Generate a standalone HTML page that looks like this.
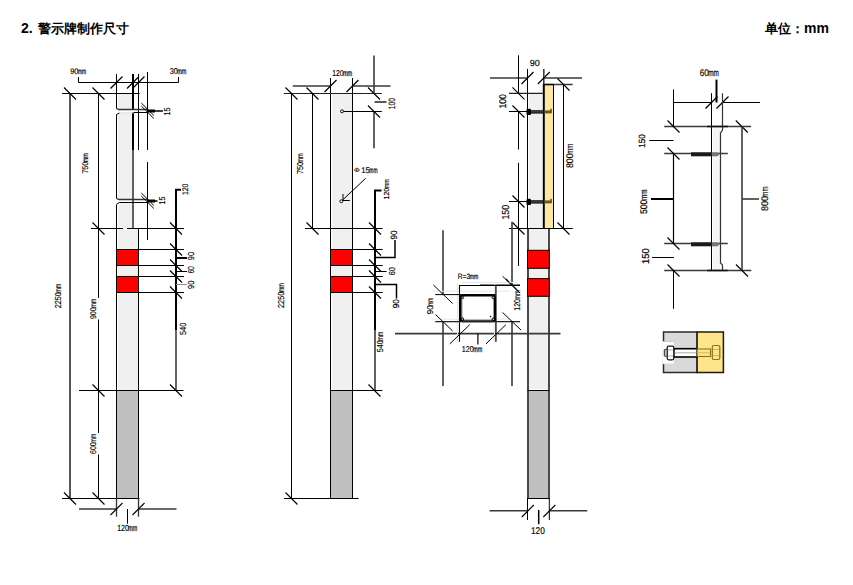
<!DOCTYPE html>
<html><head><meta charset="utf-8"><style>
html,body{margin:0;padding:0;background:#fff;width:853px;height:585px;overflow:hidden;}
body{position:relative;font-family:"Liberation Sans",sans-serif;color:#000;}
.t{position:absolute;font-size:13px;font-weight:bold;white-space:nowrap;line-height:16px;}
svg{position:absolute;left:0;top:0;}
svg text{font-family:"Liberation Sans",sans-serif;text-rendering:geometricPrecision;}
</style></head><body>
<div class="t" style="left:21px;top:20px;font-size:14px;">2.</div><div class="t" style="left:37.5px;top:21px;">警示牌制作尺寸</div>
<div class="t" style="left:765px;top:20px;">单位：<span style="font-size:14px">mm</span></div>
<svg width="853" height="585" viewBox="0 0 853 585">
<rect x="118" y="94" width="14" height="134" fill="#f0f0f0" stroke="none" stroke-width="1"/>
<rect x="118" y="229" width="20" height="161" fill="#f0f0f0" stroke="none" stroke-width="1"/>
<rect x="117" y="391" width="21" height="107" fill="#c0c0c0" stroke="none" stroke-width="1"/>
<line x1="116.5" y1="74" x2="116.5" y2="108.5" stroke="#000" stroke-width="1"/>
<line x1="116.5" y1="114.5" x2="116.5" y2="198.5" stroke="#000" stroke-width="1"/>
<line x1="116.5" y1="204.5" x2="116.5" y2="498.5" stroke="#000" stroke-width="1"/>
<line x1="133" y1="74" x2="133" y2="150" stroke="#000" stroke-width="2"/>
<line x1="133" y1="150" x2="133" y2="228.5" stroke="#3a3a3a" stroke-width="1.6"/>
<line x1="138.5" y1="74" x2="138.5" y2="150" stroke="#000" stroke-width="1"/>
<line x1="138.5" y1="228" x2="138.5" y2="498.5" stroke="#000" stroke-width="1"/>
<rect x="117" y="110" width="18" height="2.5" fill="#fff"/>
<rect x="117" y="200" width="15" height="2" fill="#fff"/>
<polyline points="116.5,108.4 118.5,109.5 147.5,109.5" fill="none" stroke="#333" stroke-width="1.3"/>
<polyline points="116.5,114.5 119.5,113" fill="none" stroke="#000" stroke-width="1"/>
<line x1="119.5" y1="113" x2="133" y2="113" stroke="#ddd" stroke-width="1"/>
<line x1="134" y1="112.5" x2="147.5" y2="112.5" stroke="#000" stroke-width="1"/>
<polyline points="116.5,198.3 119,199.5 147.5,199.5" fill="none" stroke="#333" stroke-width="1.3"/>
<polyline points="116.5,204.2 119.5,202.5 147.5,202.5" fill="none" stroke="#000" stroke-width="1"/>
<rect x="116.5" y="249.5" width="22" height="16" fill="#ff0000" stroke="#000" stroke-width="1"/>
<rect x="116.5" y="276.5" width="22" height="16" fill="#ff0000" stroke="#000" stroke-width="1"/>
<line x1="147.5" y1="72" x2="147.5" y2="150" stroke="#000" stroke-width="1"/>
<line x1="147.5" y1="162" x2="147.5" y2="240" stroke="#000" stroke-width="1"/>
<line x1="141.3" y1="103" x2="153.9" y2="115.5" stroke="#000" stroke-width="1"/>
<line x1="141.3" y1="106" x2="153.9" y2="118.5" stroke="#000" stroke-width="1"/>
<line x1="147.5" y1="111" x2="155" y2="111" stroke="#000" stroke-width="3"/>
<line x1="155" y1="111" x2="162.9" y2="111" stroke="#000" stroke-width="1.5"/>
<text x="167.25" y="114.70" font-size="8.61" text-anchor="middle" textLength="7.92" lengthAdjust="spacingAndGlyphs" fill="#000" stroke="#000" stroke-width="0.15" transform="rotate(-90 167.25 111.60)">15</text>
<line x1="141.3" y1="193" x2="153.9" y2="205.5" stroke="#000" stroke-width="1"/>
<line x1="141.3" y1="196" x2="153.9" y2="208.5" stroke="#000" stroke-width="1"/>
<line x1="147.5" y1="201" x2="155" y2="201" stroke="#000" stroke-width="3"/>
<line x1="155" y1="201" x2="157.5" y2="201" stroke="#000" stroke-width="1.5"/>
<text x="162.05" y="203.60" font-size="8.61" text-anchor="middle" textLength="7.92" lengthAdjust="spacingAndGlyphs" fill="#000" stroke="#000" stroke-width="0.15" transform="rotate(-90 162.05 200.50)">15</text>
<polyline points="78.5,77 78.5,82.5 178.5,82.5 178.5,77" fill="none" stroke="#000" stroke-width="1"/>
<line x1="110.5" y1="88.5" x2="122.5" y2="76.5" stroke="#000" stroke-width="1.15"/>
<line x1="127" y1="88.5" x2="139" y2="76.5" stroke="#000" stroke-width="1.15"/>
<line x1="132.5" y1="88.5" x2="144.5" y2="76.5" stroke="#000" stroke-width="1.15"/>
<text x="74.30" y="73.95" font-size="8.06" text-anchor="middle" textLength="8.28" lengthAdjust="spacingAndGlyphs" fill="#000" stroke="#000" stroke-width="0.15">90</text>
<text x="82.00" y="73.95" font-size="8.06" text-anchor="middle" textLength="8.08" lengthAdjust="spacingAndGlyphs" fill="#000" stroke="#000" stroke-width="0.25">mm</text>
<text x="173.70" y="74.05" font-size="8.47" text-anchor="middle" textLength="8.11" lengthAdjust="spacingAndGlyphs" fill="#000" stroke="#000" stroke-width="0.15">30</text>
<text x="181.80" y="74.05" font-size="8.47" text-anchor="middle" textLength="9.11" lengthAdjust="spacingAndGlyphs" fill="#000" stroke="#000" stroke-width="0.25">mm</text>
<line x1="62" y1="93.5" x2="139.5" y2="93.5" stroke="#000" stroke-width="1"/>
<line x1="64" y1="87.5" x2="76" y2="99.5" stroke="#000" stroke-width="1.15"/>
<line x1="92.5" y1="87.5" x2="104.5" y2="99.5" stroke="#000" stroke-width="1.15"/>
<line x1="70" y1="93.5" x2="70" y2="498.5" stroke="#111" stroke-width="1.4"/>
<line x1="98.5" y1="93.5" x2="98.5" y2="498.5" stroke="#000" stroke-width="1"/>
<line x1="91" y1="228.5" x2="123" y2="228.5" stroke="#000" stroke-width="1"/>
<line x1="127" y1="228.5" x2="184" y2="228.5" stroke="#000" stroke-width="1"/>
<line x1="92.5" y1="222.5" x2="104.5" y2="234.5" stroke="#000" stroke-width="1.15"/>
<line x1="170" y1="222.5" x2="182" y2="234.5" stroke="#000" stroke-width="1.15"/>
<line x1="138.5" y1="249.5" x2="184" y2="249.5" stroke="#000" stroke-width="1"/>
<line x1="170" y1="243.5" x2="182" y2="255.5" stroke="#000" stroke-width="1.15"/>
<line x1="138.5" y1="265.5" x2="184" y2="265.5" stroke="#000" stroke-width="1"/>
<line x1="170" y1="259.5" x2="182" y2="271.5" stroke="#000" stroke-width="1.15"/>
<line x1="138.5" y1="276.5" x2="184" y2="276.5" stroke="#000" stroke-width="1"/>
<line x1="170" y1="270.5" x2="182" y2="282.5" stroke="#000" stroke-width="1.15"/>
<line x1="138.5" y1="292.5" x2="184" y2="292.5" stroke="#000" stroke-width="1"/>
<line x1="170" y1="286.5" x2="182" y2="298.5" stroke="#000" stroke-width="1.15"/>
<polyline points="181,189.8 176,189.8 176,330" fill="none" stroke="#000" stroke-width="2"/>
<line x1="176" y1="330" x2="176" y2="390.5" stroke="#333" stroke-width="1.5"/>
<text x="185.10" y="192.30" font-size="8.19" text-anchor="middle" textLength="11.39" lengthAdjust="spacingAndGlyphs" fill="#000" stroke="#000" stroke-width="0.15" transform="rotate(-90 185.10 189.35)">120</text>
<line x1="176" y1="258" x2="187" y2="258" stroke="#000" stroke-width="2"/>
<line x1="176" y1="271.5" x2="187" y2="271.5" stroke="#000" stroke-width="1"/>
<line x1="176" y1="284.5" x2="187" y2="284.5" stroke="#888" stroke-width="1"/>
<text x="191.10" y="259.15" font-size="8.75" text-anchor="middle" textLength="8.32" lengthAdjust="spacingAndGlyphs" fill="#000" stroke="#000" stroke-width="0.15" transform="rotate(-90 191.10 256.00)">90</text>
<text x="191.10" y="272.90" font-size="8.75" text-anchor="middle" textLength="7.02" lengthAdjust="spacingAndGlyphs" fill="#000" stroke="#000" stroke-width="0.15" transform="rotate(-90 191.10 269.75)">60</text>
<text x="191.10" y="287.85" font-size="8.75" text-anchor="middle" textLength="8.33" lengthAdjust="spacingAndGlyphs" fill="#000" stroke="#000" stroke-width="0.15" transform="rotate(-90 191.10 284.70)">90</text>
<text x="183.10" y="332.00" font-size="8.75" text-anchor="middle" textLength="12.22" lengthAdjust="spacingAndGlyphs" fill="#000" stroke="#000" stroke-width="0.15" transform="rotate(-90 183.10 328.85)">540</text>
<line x1="79" y1="390.5" x2="183.5" y2="390.5" stroke="#000" stroke-width="1"/>
<line x1="92.5" y1="384.5" x2="104.5" y2="396.5" stroke="#000" stroke-width="1.15"/>
<line x1="170" y1="384.5" x2="182" y2="396.5" stroke="#000" stroke-width="1.15"/>
<line x1="62" y1="498.5" x2="139.5" y2="498.5" stroke="#000" stroke-width="1"/>
<line x1="64" y1="492.5" x2="76" y2="504.5" stroke="#000" stroke-width="1.15"/>
<line x1="92.5" y1="492.5" x2="104.5" y2="504.5" stroke="#000" stroke-width="1.15"/>
<line x1="79" y1="509" x2="116.5" y2="509" stroke="#3a3a3a" stroke-width="1.6"/>
<line x1="138.5" y1="509" x2="176.5" y2="509" stroke="#3a3a3a" stroke-width="1.6"/>
<line x1="116.5" y1="498" x2="116.5" y2="516.7" stroke="#333" stroke-width="1.3"/>
<line x1="138.5" y1="498" x2="138.5" y2="516.7" stroke="#333" stroke-width="1.3"/>
<line x1="110.5" y1="515" x2="122.5" y2="503" stroke="#000" stroke-width="1.15"/>
<line x1="132.5" y1="515" x2="144.5" y2="503" stroke="#000" stroke-width="1.15"/>
<line x1="127.5" y1="509" x2="127.5" y2="523.7" stroke="#000" stroke-width="1"/>
<text x="122.95" y="531.15" font-size="8.89" text-anchor="middle" textLength="11.63" lengthAdjust="spacingAndGlyphs" fill="#000" stroke="#000" stroke-width="0.15">120</text>
<text x="132.75" y="531.15" font-size="8.89" text-anchor="middle" textLength="9.03" lengthAdjust="spacingAndGlyphs" fill="#000" stroke="#000" stroke-width="0.25">mm</text>
<rect x="89.5" y="298" width="9.5" height="21.5" fill="#fff" stroke="none" stroke-width="1"/>
<rect x="89.5" y="433" width="9.5" height="21.5" fill="#fff" stroke="none" stroke-width="1"/>
<text x="85.50" y="170.60" font-size="8.19" text-anchor="middle" textLength="11.79" lengthAdjust="spacingAndGlyphs" fill="#000" stroke="#000" stroke-width="0.15" transform="rotate(-90 85.50 167.65)">750</text>
<text x="85.50" y="160.70" font-size="8.19" text-anchor="middle" textLength="8.99" lengthAdjust="spacingAndGlyphs" fill="#000" stroke="#000" stroke-width="0.15" transform="rotate(-90 85.50 157.75)">mm</text>
<text x="57.95" y="303.30" font-size="8.61" text-anchor="middle" textLength="16.12" lengthAdjust="spacingAndGlyphs" fill="#000" stroke="#000" stroke-width="0.15" transform="rotate(-90 57.95 300.20)">2250</text>
<text x="57.95" y="291.25" font-size="8.61" text-anchor="middle" textLength="9.02" lengthAdjust="spacingAndGlyphs" fill="#000" stroke="#000" stroke-width="0.15" transform="rotate(-90 57.95 288.15)">mm</text>
<text x="93.25" y="316.15" font-size="8.33" text-anchor="middle" textLength="11.80" lengthAdjust="spacingAndGlyphs" fill="#000" stroke="#000" stroke-width="0.15" transform="rotate(-90 93.25 313.15)">900</text>
<text x="93.25" y="306.25" font-size="8.33" text-anchor="middle" textLength="9.00" lengthAdjust="spacingAndGlyphs" fill="#000" stroke="#000" stroke-width="0.15" transform="rotate(-90 93.25 303.25)">mm</text>
<text x="93.20" y="451.15" font-size="8.47" text-anchor="middle" textLength="11.71" lengthAdjust="spacingAndGlyphs" fill="#000" stroke="#000" stroke-width="0.15" transform="rotate(-90 93.20 448.10)">600</text>
<text x="93.20" y="441.30" font-size="8.47" text-anchor="middle" textLength="9.01" lengthAdjust="spacingAndGlyphs" fill="#000" stroke="#000" stroke-width="0.15" transform="rotate(-90 93.20 438.25)">mm</text>
<rect x="332" y="94" width="20" height="296" fill="#f0f0f0" stroke="none" stroke-width="1"/>
<rect x="331" y="391" width="21" height="107" fill="#c0c0c0" stroke="none" stroke-width="1"/>
<line x1="330.5" y1="78" x2="330.5" y2="498.5" stroke="#000" stroke-width="1"/>
<line x1="352.5" y1="78" x2="352.5" y2="498.5" stroke="#000" stroke-width="1"/>
<rect x="330.5" y="249.5" width="22" height="16" fill="#ff0000" stroke="#000" stroke-width="1"/>
<rect x="330.5" y="276.5" width="22" height="16" fill="#ff0000" stroke="#000" stroke-width="1"/>
<line x1="292.8" y1="86" x2="330.5" y2="86" stroke="#3a3a3a" stroke-width="1.6"/>
<line x1="352.5" y1="86" x2="390.6" y2="86" stroke="#3a3a3a" stroke-width="1.6"/>
<line x1="324.5" y1="92" x2="336.5" y2="80" stroke="#000" stroke-width="1.15"/>
<line x1="346.5" y1="92" x2="358.5" y2="80" stroke="#000" stroke-width="1.15"/>
<text x="337.80" y="75.95" font-size="8.61" text-anchor="middle" textLength="11.32" lengthAdjust="spacingAndGlyphs" fill="#000" stroke="#000" stroke-width="0.15">120</text>
<text x="347.60" y="75.95" font-size="8.61" text-anchor="middle" textLength="9.32" lengthAdjust="spacingAndGlyphs" fill="#000" stroke="#000" stroke-width="0.25">mm</text>
<line x1="283.8" y1="93.5" x2="381.8" y2="93.5" stroke="#222" stroke-width="1"/>
<line x1="285.5" y1="87.5" x2="297.5" y2="99.5" stroke="#000" stroke-width="1.15"/>
<line x1="306.5" y1="87.5" x2="318.5" y2="99.5" stroke="#000" stroke-width="1.15"/>
<line x1="368" y1="87.5" x2="380" y2="99.5" stroke="#000" stroke-width="1.15"/>
<line x1="374" y1="55.5" x2="374" y2="93.5" stroke="#3a3a3a" stroke-width="1.6"/>
<line x1="374" y1="111.5" x2="374" y2="148.3" stroke="#3a3a3a" stroke-width="1.6"/>
<circle cx="342" cy="111.3" r="1.5" fill="none" stroke="#000" stroke-width="0.9"/>
<line x1="343.5" y1="111.5" x2="381.8" y2="111.5" stroke="#000" stroke-width="1"/>
<line x1="368" y1="105.5" x2="380" y2="117.5" stroke="#000" stroke-width="1.15"/>
<line x1="374.5" y1="102" x2="386.5" y2="102" stroke="#000" stroke-width="1.3"/>
<text x="391.75" y="106.90" font-size="9.17" text-anchor="middle" textLength="11.35" lengthAdjust="spacingAndGlyphs" fill="#000" stroke="#000" stroke-width="0.15" transform="rotate(-90 391.75 103.60)">100</text>
<circle cx="341.3" cy="201.3" r="1.5" fill="none" stroke="#000" stroke-width="0.9"/>
<line x1="343" y1="194" x2="343" y2="200.5" stroke="#000" stroke-width="1"/>
<line x1="343" y1="200.5" x2="349.8" y2="200.5" stroke="#000" stroke-width="1"/>
<line x1="363.9" y1="180" x2="342.6" y2="200" stroke="#000" stroke-width="1"/>
<line x1="365.7" y1="178.2" x2="363.9" y2="180" stroke="#000" stroke-width="1"/>
<text x="356.75" y="171.66" font-size="6.00" text-anchor="middle" textLength="5.66" lengthAdjust="spacingAndGlyphs" fill="#000" stroke="#000" stroke-width="0.15">Φ</text>
<text x="365.50" y="172.95" font-size="8.33" text-anchor="middle" textLength="8.70" lengthAdjust="spacingAndGlyphs" fill="#000" stroke="#000" stroke-width="0.15">15</text>
<text x="373.40" y="172.95" font-size="8.33" text-anchor="middle" textLength="8.10" lengthAdjust="spacingAndGlyphs" fill="#000" stroke="#000" stroke-width="0.25">mm</text>
<line x1="291.5" y1="93.5" x2="291.5" y2="498.5" stroke="#000" stroke-width="1"/>
<line x1="312.5" y1="93.5" x2="312.5" y2="228.5" stroke="#000" stroke-width="1"/>
<line x1="304.9" y1="228.5" x2="382.6" y2="228.5" stroke="#000" stroke-width="1"/>
<line x1="306.5" y1="222.5" x2="318.5" y2="234.5" stroke="#000" stroke-width="1.15"/>
<line x1="369" y1="222.5" x2="381" y2="234.5" stroke="#000" stroke-width="1.15"/>
<polyline points="381.5,190.6 375,190.6 375,330.6" fill="none" stroke="#000" stroke-width="2"/>
<line x1="375" y1="330.6" x2="375" y2="390.5" stroke="#3a3a3a" stroke-width="1.6"/>
<text x="386.40" y="196.30" font-size="7.36" text-anchor="middle" textLength="11.74" lengthAdjust="spacingAndGlyphs" fill="#000" stroke="#000" stroke-width="0.15" transform="rotate(-90 386.40 193.65)">120</text>
<text x="386.40" y="186.40" font-size="7.36" text-anchor="middle" textLength="8.94" lengthAdjust="spacingAndGlyphs" fill="#000" stroke="#000" stroke-width="0.15" transform="rotate(-90 386.40 183.75)">mm</text>
<line x1="352.5" y1="249.5" x2="382.7" y2="249.5" stroke="#000" stroke-width="1"/>
<line x1="369" y1="243.5" x2="381" y2="255.5" stroke="#000" stroke-width="1.15"/>
<line x1="352.5" y1="265.5" x2="382.7" y2="265.5" stroke="#000" stroke-width="1"/>
<line x1="369" y1="259.5" x2="381" y2="271.5" stroke="#000" stroke-width="1.15"/>
<line x1="352.5" y1="276.5" x2="382.7" y2="276.5" stroke="#000" stroke-width="1"/>
<line x1="369" y1="270.5" x2="381" y2="282.5" stroke="#000" stroke-width="1.15"/>
<line x1="352.5" y1="292.5" x2="382.7" y2="292.5" stroke="#000" stroke-width="1"/>
<line x1="369" y1="286.5" x2="381" y2="298.5" stroke="#000" stroke-width="1.15"/>
<polyline points="375,257.5 395,257.5 395,240" fill="none" stroke="#000" stroke-width="1.5"/>
<text x="394.00" y="238.25" font-size="9.03" text-anchor="middle" textLength="8.94" lengthAdjust="spacingAndGlyphs" fill="#000" stroke="#000" stroke-width="0.15" transform="rotate(-90 394.00 235.00)">90</text>
<line x1="375" y1="271.5" x2="386.6" y2="271.5" stroke="#000" stroke-width="1"/>
<text x="391.55" y="274.25" font-size="8.61" text-anchor="middle" textLength="8.22" lengthAdjust="spacingAndGlyphs" fill="#000" stroke="#000" stroke-width="0.15" transform="rotate(-90 391.55 271.15)">60</text>
<polyline points="375,284.5 396.5,284.5 396.5,298.6" fill="none" stroke="#000" stroke-width="1.5"/>
<text x="396.10" y="307.00" font-size="8.75" text-anchor="middle" textLength="9.02" lengthAdjust="spacingAndGlyphs" fill="#000" stroke="#000" stroke-width="0.15" transform="rotate(-90 396.10 303.85)">90</text>
<line x1="330.5" y1="390.5" x2="382.4" y2="390.5" stroke="#000" stroke-width="1"/>
<line x1="368.5" y1="384.5" x2="380.5" y2="396.5" stroke="#000" stroke-width="1.15"/>
<text x="380.25" y="349.40" font-size="8.61" text-anchor="middle" textLength="12.12" lengthAdjust="spacingAndGlyphs" fill="#000" stroke="#000" stroke-width="0.15" transform="rotate(-90 380.25 346.30)">540</text>
<text x="380.25" y="339.35" font-size="8.61" text-anchor="middle" textLength="9.02" lengthAdjust="spacingAndGlyphs" fill="#000" stroke="#000" stroke-width="0.15" transform="rotate(-90 380.25 336.25)">mm</text>
<line x1="284" y1="498.5" x2="358.6" y2="498.5" stroke="#000" stroke-width="1"/>
<line x1="285.5" y1="492.5" x2="297.5" y2="504.5" stroke="#000" stroke-width="1.15"/>
<text x="300.25" y="171.15" font-size="8.61" text-anchor="middle" textLength="12.02" lengthAdjust="spacingAndGlyphs" fill="#000" stroke="#000" stroke-width="0.15" transform="rotate(-90 300.25 168.05)">750</text>
<text x="300.25" y="161.15" font-size="8.61" text-anchor="middle" textLength="9.02" lengthAdjust="spacingAndGlyphs" fill="#000" stroke="#000" stroke-width="0.15" transform="rotate(-90 300.25 158.05)">mm</text>
<text x="280.75" y="302.95" font-size="8.61" text-anchor="middle" textLength="16.22" lengthAdjust="spacingAndGlyphs" fill="#000" stroke="#000" stroke-width="0.15" transform="rotate(-90 280.75 299.85)">2250</text>
<text x="280.75" y="290.85" font-size="8.61" text-anchor="middle" textLength="9.02" lengthAdjust="spacingAndGlyphs" fill="#000" stroke="#000" stroke-width="0.15" transform="rotate(-90 280.75 287.75)">mm</text>
<rect x="529" y="94" width="13" height="134" fill="#f0f0f0" stroke="none" stroke-width="1"/>
<rect x="544.5" y="85" width="9" height="143" fill="#fde8a2" stroke="none" stroke-width="1"/>
<rect x="529" y="229" width="19" height="160" fill="#f0f0f0" stroke="none" stroke-width="1"/>
<rect x="529" y="391" width="19" height="107" fill="#c0c0c0" stroke="none" stroke-width="1"/>
<line x1="527.5" y1="68.9" x2="527.5" y2="228.5" stroke="#000" stroke-width="1"/>
<line x1="528" y1="228" x2="528" y2="498.5" stroke="#2a2a2a" stroke-width="1.7"/>
<line x1="549" y1="228" x2="549" y2="498.5" stroke="#2a2a2a" stroke-width="1.7"/>
<rect x="527.5" y="250.3" width="21.8" height="18" fill="#ff0000" stroke="#000" stroke-width="1"/>
<rect x="527.5" y="278.6" width="21.8" height="17.7" fill="#ff0000" stroke="#000" stroke-width="1"/>
<line x1="543.8" y1="68.9" x2="543.8" y2="84" stroke="#333" stroke-width="1.5"/>
<line x1="543.8" y1="84" x2="543.8" y2="228.5" stroke="#000" stroke-width="2"/>
<line x1="553.5" y1="84" x2="553.5" y2="228.5" stroke="#000" stroke-width="1"/>
<line x1="543" y1="84.5" x2="554" y2="84.5" stroke="#000" stroke-width="1.6"/>
<line x1="554" y1="84.5" x2="572.7" y2="84.5" stroke="#3a3a3a" stroke-width="1.5"/>
<line x1="490" y1="78" x2="527.5" y2="78" stroke="#3a3a3a" stroke-width="1.6"/>
<line x1="543.8" y1="78" x2="582" y2="78" stroke="#3a3a3a" stroke-width="1.6"/>
<line x1="521.5" y1="84" x2="533.5" y2="72" stroke="#000" stroke-width="1.15"/>
<line x1="537.8" y1="84" x2="549.8" y2="72" stroke="#000" stroke-width="1.15"/>
<text x="534.75" y="66.05" font-size="9.03" text-anchor="middle" textLength="10.04" lengthAdjust="spacingAndGlyphs" fill="#000" stroke="#000" stroke-width="0.15">90</text>
<line x1="518.5" y1="55.3" x2="518.5" y2="93.3" stroke="#000" stroke-width="1"/>
<line x1="518.5" y1="111.5" x2="518.5" y2="149.5" stroke="#000" stroke-width="1"/>
<line x1="518.5" y1="162.8" x2="518.5" y2="266" stroke="#000" stroke-width="1"/>
<line x1="563.5" y1="84.5" x2="563.5" y2="228.5" stroke="#000" stroke-width="1"/>
<line x1="557.5" y1="78.5" x2="569.5" y2="90.5" stroke="#000" stroke-width="1.15"/>
<line x1="557.5" y1="222.5" x2="569.5" y2="234.5" stroke="#000" stroke-width="1.15"/>
<text x="569.70" y="164.10" font-size="9.58" text-anchor="middle" textLength="14.88" lengthAdjust="spacingAndGlyphs" fill="#000" stroke="#000" stroke-width="0.15" transform="rotate(-90 569.70 160.65)">800</text>
<text x="569.70" y="152.15" font-size="9.58" text-anchor="middle" textLength="10.18" lengthAdjust="spacingAndGlyphs" fill="#000" stroke="#000" stroke-width="0.15" transform="rotate(-90 569.70 148.70)">mm</text>
<line x1="509" y1="93.3" x2="544" y2="93.3" stroke="#222" stroke-width="1.2"/>
<line x1="512.5" y1="87.3" x2="524.5" y2="99.3" stroke="#000" stroke-width="1.15"/>
<line x1="509" y1="111.5" x2="527.5" y2="111.5" stroke="#000" stroke-width="1"/>
<line x1="512.5" y1="105.5" x2="524.5" y2="117.5" stroke="#000" stroke-width="1.15"/>
<line x1="509" y1="201.5" x2="527.5" y2="201.5" stroke="#000" stroke-width="1"/>
<line x1="512.5" y1="195.5" x2="524.5" y2="207.5" stroke="#000" stroke-width="1.15"/>
<line x1="528" y1="111.9" x2="544" y2="111.9" stroke="#111" stroke-width="3.4"/>
<line x1="531" y1="111.9" x2="543" y2="111.9" stroke="#777" stroke-width="0.7"/>
<rect x="526.5" y="108.7" width="4.5" height="6.4" rx="1.2" fill="#000"/>
<line x1="544.5" y1="111.9" x2="551.5" y2="111.9" stroke="#6a5618" stroke-width="3"/>
<line x1="551" y1="108.7" x2="551" y2="112.9" stroke="#6a5618" stroke-width="1.6"/>
<line x1="528" y1="201.9" x2="544" y2="201.9" stroke="#111" stroke-width="3.4"/>
<line x1="531" y1="201.9" x2="543" y2="201.9" stroke="#777" stroke-width="0.7"/>
<rect x="526.5" y="198.70000000000002" width="4.5" height="6.4" rx="1.2" fill="#000"/>
<line x1="544.5" y1="201.9" x2="551.5" y2="201.9" stroke="#6a5618" stroke-width="3"/>
<line x1="551" y1="198.70000000000002" x2="551" y2="202.9" stroke="#6a5618" stroke-width="1.6"/>
<text x="502.55" y="104.85" font-size="9.72" text-anchor="middle" textLength="14.48" lengthAdjust="spacingAndGlyphs" fill="#000" stroke="#000" stroke-width="0.15" transform="rotate(-90 502.55 101.35)">100</text>
<text x="505.80" y="215.80" font-size="10.14" text-anchor="middle" textLength="14.91" lengthAdjust="spacingAndGlyphs" fill="#000" stroke="#000" stroke-width="0.15" transform="rotate(-90 505.80 212.15)">150</text>
<line x1="509" y1="228.5" x2="572.8" y2="228.5" stroke="#000" stroke-width="1"/>
<line x1="512.5" y1="222.5" x2="524.5" y2="234.5" stroke="#000" stroke-width="1.15"/>
<line x1="512" y1="221.8" x2="512" y2="285" stroke="#3a3a3a" stroke-width="1.6"/>
<line x1="512" y1="321.7" x2="512" y2="386" stroke="#3a3a3a" stroke-width="1.6"/>
<line x1="480" y1="285" x2="520" y2="285" stroke="#000" stroke-width="1"/>
<line x1="506" y1="279" x2="518" y2="291" stroke="#000" stroke-width="1.15"/>
<text x="516.60" y="307.95" font-size="8.47" text-anchor="middle" textLength="11.71" lengthAdjust="spacingAndGlyphs" fill="#000" stroke="#000" stroke-width="0.15" transform="rotate(-90 516.60 304.90)">120</text>
<text x="516.60" y="298.10" font-size="8.47" text-anchor="middle" textLength="9.01" lengthAdjust="spacingAndGlyphs" fill="#000" stroke="#000" stroke-width="0.15" transform="rotate(-90 516.60 295.05)">mm</text>
<line x1="527.5" y1="390.5" x2="549.3" y2="390.5" stroke="#000" stroke-width="1"/>
<line x1="527.5" y1="498.5" x2="549.3" y2="498.5" stroke="#000" stroke-width="1"/>
<line x1="527.5" y1="498" x2="527.5" y2="520" stroke="#000" stroke-width="1"/>
<line x1="549.3" y1="498" x2="549.3" y2="520" stroke="#000" stroke-width="1"/>
<line x1="489.6" y1="510.8" x2="528" y2="510.8" stroke="#3a3a3a" stroke-width="1.6"/>
<line x1="549" y1="510.8" x2="587.2" y2="510.8" stroke="#3a3a3a" stroke-width="1.6"/>
<line x1="521.8" y1="517" x2="533.8" y2="505" stroke="#000" stroke-width="1.15"/>
<line x1="543.3" y1="517" x2="555.3" y2="505" stroke="#000" stroke-width="1.15"/>
<line x1="538.7" y1="510" x2="538.7" y2="524.2" stroke="#000" stroke-width="1.5"/>
<text x="537.85" y="533.85" font-size="9.86" text-anchor="middle" textLength="13.89" lengthAdjust="spacingAndGlyphs" fill="#000" stroke="#000" stroke-width="0.15">120</text>
<line x1="443" y1="230.3" x2="443" y2="294.6" stroke="#3a3a3a" stroke-width="1.6"/>
<line x1="443" y1="321.7" x2="443" y2="386" stroke="#3a3a3a" stroke-width="1.6"/>
<line x1="395" y1="333.6" x2="560.5" y2="333.6" stroke="#3a3a3a" stroke-width="1.6"/>
<line x1="432" y1="291.2" x2="510" y2="291.2" stroke="#e6e6e6" stroke-width="1"/>
<line x1="432" y1="319.2" x2="510" y2="319.2" stroke="#e6e6e6" stroke-width="1"/>
<line x1="457.4" y1="283" x2="457.4" y2="343" stroke="#e6e6e6" stroke-width="1"/>
<line x1="494.3" y1="283" x2="494.3" y2="343" stroke="#e6e6e6" stroke-width="1"/>
<line x1="462" y1="282.4" x2="517" y2="282.4" stroke="#e6e6e6" stroke-width="1"/>
<polyline points="459.5,341.8 459.5,285.5 519.9,285.5" fill="none" stroke="#000" stroke-width="1.1"/>
<line x1="495.9" y1="285.7" x2="495.9" y2="341.8" stroke="#3a3a3a" stroke-width="1.6"/>
<rect x="460.6" y="295.2" width="34.4" height="26" rx="2" fill="none" stroke="#000" stroke-width="2"/>
<rect x="462" y="296.5" width="31.5" height="23.5" rx="2" fill="none" stroke="#555" stroke-width="0.6"/>
<line x1="435.2" y1="294.6" x2="495.7" y2="294.6" stroke="#000" stroke-width="1"/>
<line x1="435.2" y1="321.7" x2="520" y2="321.7" stroke="#222" stroke-width="1.2"/>
<circle cx="462.4" cy="297.4" r="1.3" fill="none" stroke="#000" stroke-width="1"/>
<circle cx="493.3" cy="297.4" r="1.3" fill="none" stroke="#000" stroke-width="1"/>
<circle cx="462.4" cy="319.2" r="1.3" fill="none" stroke="#000" stroke-width="1"/>
<circle cx="493.3" cy="319.2" r="1.3" fill="none" stroke="#000" stroke-width="1"/>
<circle cx="490.6" cy="316.5" r="0.8" fill="#000"/>
<line x1="433.4" y1="285" x2="452.6" y2="303.5" stroke="#000" stroke-width="1"/>
<line x1="435.5" y1="314.5" x2="452.6" y2="330.9" stroke="#000" stroke-width="1"/>
<line x1="449.8" y1="343.9" x2="469.7" y2="324.7" stroke="#000" stroke-width="1"/>
<line x1="486" y1="343.9" x2="505.9" y2="324.7" stroke="#000" stroke-width="1"/>
<line x1="502.5" y1="276.2" x2="520" y2="293" stroke="#000" stroke-width="1"/>
<line x1="502.5" y1="312.4" x2="521" y2="330" stroke="#000" stroke-width="1"/>
<text x="464.00" y="279.15" font-size="7.78" text-anchor="middle" textLength="12.47" lengthAdjust="spacingAndGlyphs" fill="#000" stroke="#000" stroke-width="0.15">R=3</text>
<text x="470.00" y="279.15" font-size="7.78" text-anchor="middle" textLength="0.47" lengthAdjust="spacingAndGlyphs" fill="#000" stroke="#000" stroke-width="0.15"></text>
<text x="474.05" y="279.15" font-size="7.78" text-anchor="middle" textLength="8.57" lengthAdjust="spacingAndGlyphs" fill="#000" stroke="#000" stroke-width="0.25">mm</text>
<text x="430.00" y="312.85" font-size="8.47" text-anchor="middle" textLength="8.91" lengthAdjust="spacingAndGlyphs" fill="#000" stroke="#000" stroke-width="0.15" transform="rotate(-90 430.00 309.80)">90</text>
<text x="430.00" y="304.85" font-size="8.47" text-anchor="middle" textLength="8.11" lengthAdjust="spacingAndGlyphs" fill="#000" stroke="#000" stroke-width="0.15" transform="rotate(-90 430.00 301.80)">mm</text>
<text x="467.75" y="352.05" font-size="8.47" text-anchor="middle" textLength="12.01" lengthAdjust="spacingAndGlyphs" fill="#000" stroke="#000" stroke-width="0.15">120</text>
<text x="477.75" y="352.05" font-size="8.47" text-anchor="middle" textLength="9.01" lengthAdjust="spacingAndGlyphs" fill="#000" stroke="#000" stroke-width="0.25">mm</text>
<line x1="477.9" y1="333.6" x2="477.9" y2="344.5" stroke="#000" stroke-width="1.2"/>
<text x="704.30" y="75.85" font-size="9.72" text-anchor="middle" textLength="9.18" lengthAdjust="spacingAndGlyphs" fill="#000" stroke="#000" stroke-width="0.15">60</text>
<text x="713.60" y="75.85" font-size="9.72" text-anchor="middle" textLength="10.58" lengthAdjust="spacingAndGlyphs" fill="#000" stroke="#000" stroke-width="0.25">mm</text>
<line x1="716.5" y1="79.6" x2="716.5" y2="102.5" stroke="#000" stroke-width="2"/>
<polyline points="673.5,89.4 673.5,102.5 711.5,102.5" fill="none" stroke="#000" stroke-width="1"/>
<line x1="722.5" y1="102.5" x2="760" y2="102.5" stroke="#000" stroke-width="1"/>
<line x1="673.5" y1="102.5" x2="673.5" y2="126.5" stroke="#000" stroke-width="1"/>
<line x1="705.5" y1="108.5" x2="717.5" y2="96.5" stroke="#000" stroke-width="1.15"/>
<line x1="716.5" y1="108.5" x2="728.5" y2="96.5" stroke="#000" stroke-width="1.15"/>
<rect x="713" y="127.5" width="7" height="143" fill="#f5f5f5" stroke="none" stroke-width="1"/>
<line x1="711.5" y1="93.2" x2="711.5" y2="270.5" stroke="#000" stroke-width="1"/>
<polyline points="722.5,93.2 722.5,130 720.5,133 720.5,263 722.5,265 722.5,270.5" fill="none" stroke="#333" stroke-width="1.2"/>
<line x1="664.2" y1="126.5" x2="751.1" y2="126.5" stroke="#3a3a3a" stroke-width="1.6"/>
<line x1="707" y1="126.5" x2="728" y2="126.5" stroke="#111" stroke-width="1.5"/>
<line x1="667.5" y1="120.5" x2="679.5" y2="132.5" stroke="#000" stroke-width="1.15"/>
<line x1="735.8" y1="120.5" x2="747.8" y2="132.5" stroke="#000" stroke-width="1.15"/>
<text x="641.80" y="144.20" font-size="9.03" text-anchor="middle" textLength="13.44" lengthAdjust="spacingAndGlyphs" fill="#000" stroke="#000" stroke-width="0.2" transform="rotate(-90 641.80 140.95)">150</text>
<line x1="649.2" y1="140.5" x2="673.6" y2="140.5" stroke="#000" stroke-width="1"/>
<line x1="664.2" y1="153.5" x2="727.8" y2="153.5" stroke="#3a3a3a" stroke-width="1.6"/>
<line x1="691" y1="154.3" x2="712" y2="154.3" stroke="#1a1a1a" stroke-width="4"/>
<line x1="712" y1="154.3" x2="717" y2="154.3" stroke="#777" stroke-width="4"/>
<circle cx="717" cy="154.3" r="2" fill="#777"/>
<line x1="667.5" y1="147.5" x2="679.5" y2="159.5" stroke="#000" stroke-width="1.15"/>
<line x1="664.2" y1="243.5" x2="727.8" y2="243.5" stroke="#3a3a3a" stroke-width="1.6"/>
<line x1="691" y1="244.3" x2="712" y2="244.3" stroke="#1a1a1a" stroke-width="4"/>
<line x1="712" y1="244.3" x2="717" y2="244.3" stroke="#777" stroke-width="4"/>
<circle cx="717" cy="244.3" r="2" fill="#777"/>
<line x1="667.5" y1="237.5" x2="679.5" y2="249.5" stroke="#000" stroke-width="1.15"/>
<line x1="673.5" y1="153.5" x2="673.5" y2="243.5" stroke="#000" stroke-width="1.2"/>
<line x1="651" y1="199" x2="673.5" y2="199" stroke="#000" stroke-width="2"/>
<text x="643.70" y="210.25" font-size="9.58" text-anchor="middle" textLength="14.58" lengthAdjust="spacingAndGlyphs" fill="#000" stroke="#000" stroke-width="0.2" transform="rotate(-90 643.70 206.80)">500</text>
<text x="643.70" y="198.25" font-size="9.58" text-anchor="middle" textLength="10.58" lengthAdjust="spacingAndGlyphs" fill="#000" stroke="#000" stroke-width="0.2" transform="rotate(-90 643.70 194.80)">mm</text>
<text x="645.05" y="259.80" font-size="10.00" text-anchor="middle" textLength="15.60" lengthAdjust="spacingAndGlyphs" fill="#000" stroke="#000" stroke-width="0.2" transform="rotate(-90 645.05 256.20)">150</text>
<line x1="652.1" y1="257.5" x2="674" y2="257.5" stroke="#000" stroke-width="1"/>
<line x1="664.2" y1="270.5" x2="751.3" y2="270.5" stroke="#3a3a3a" stroke-width="1.6"/>
<line x1="707.2" y1="270.5" x2="727.8" y2="270.5" stroke="#111" stroke-width="1.5"/>
<line x1="667.5" y1="264.5" x2="679.5" y2="276.5" stroke="#000" stroke-width="1.15"/>
<line x1="736" y1="264.5" x2="748" y2="276.5" stroke="#000" stroke-width="1.15"/>
<line x1="673.5" y1="270.5" x2="673.5" y2="308.8" stroke="#000" stroke-width="1"/>
<line x1="742" y1="126.5" x2="742" y2="270.5" stroke="#3a3a3a" stroke-width="1.6"/>
<line x1="742" y1="199" x2="759" y2="199" stroke="#3a3a3a" stroke-width="1.6"/>
<text x="764.70" y="207.05" font-size="9.58" text-anchor="middle" textLength="14.98" lengthAdjust="spacingAndGlyphs" fill="#000" stroke="#000" stroke-width="0.15" transform="rotate(-90 764.70 203.60)">800</text>
<text x="764.70" y="195.05" font-size="9.58" text-anchor="middle" textLength="10.18" lengthAdjust="spacingAndGlyphs" fill="#000" stroke="#000" stroke-width="0.15" transform="rotate(-90 764.70 191.60)">mm</text>
<rect x="663.5" y="332" width="33.6" height="40.5" fill="#d9d9d9" stroke="#2a2a2a" stroke-width="1.5"/>
<rect x="697.1" y="332" width="26.3" height="40.5" fill="#ffe58a" stroke="#1a1a1a" stroke-width="1.5"/>
<rect x="662.3" y="341.4" width="11.5" height="22.6" fill="#fff" stroke="none" stroke-width="1"/>
<line x1="663" y1="341.6" x2="673.8" y2="341.6" stroke="#bbb" stroke-width="0.8"/>
<line x1="663" y1="363.8" x2="673.8" y2="363.8" stroke="#ddd" stroke-width="0.8"/>
<rect x="673.8" y="348.7" width="23.3" height="8.3" fill="#fff" stroke="#000" stroke-width="1.6"/>
<line x1="674" y1="352.8" x2="697" y2="352.8" stroke="#999" stroke-width="0.8"/>
<rect x="697.1" y="349" width="13.4" height="7.5" fill="#ffe58a" stroke="#8a7320" stroke-width="1.1"/>
<line x1="698" y1="352.8" x2="710" y2="352.8" stroke="#c9a83a" stroke-width="0.7"/>
<rect x="667.2" y="346.1" width="6.6" height="13.7" rx="1.5" fill="#fff" stroke="#111" stroke-width="1.2"/>
<line x1="668" y1="350" x2="673" y2="350" stroke="#777" stroke-width="0.6"/>
<line x1="668" y1="356" x2="673" y2="356" stroke="#777" stroke-width="0.6"/>
<rect x="664.3" y="349.3" width="3" height="7" rx="1" fill="#bbb" stroke="#222" stroke-width="1"/>
<rect x="712.3" y="345.5" width="7.5" height="14" rx="1.5" fill="#ffe58a" stroke="#8a7320" stroke-width="1.2"/>
<line x1="713" y1="349.5" x2="719" y2="349.5" stroke="#b9972e" stroke-width="0.6"/>
<line x1="713" y1="355.5" x2="719" y2="355.5" stroke="#b9972e" stroke-width="0.6"/>
</svg>
</body></html>
